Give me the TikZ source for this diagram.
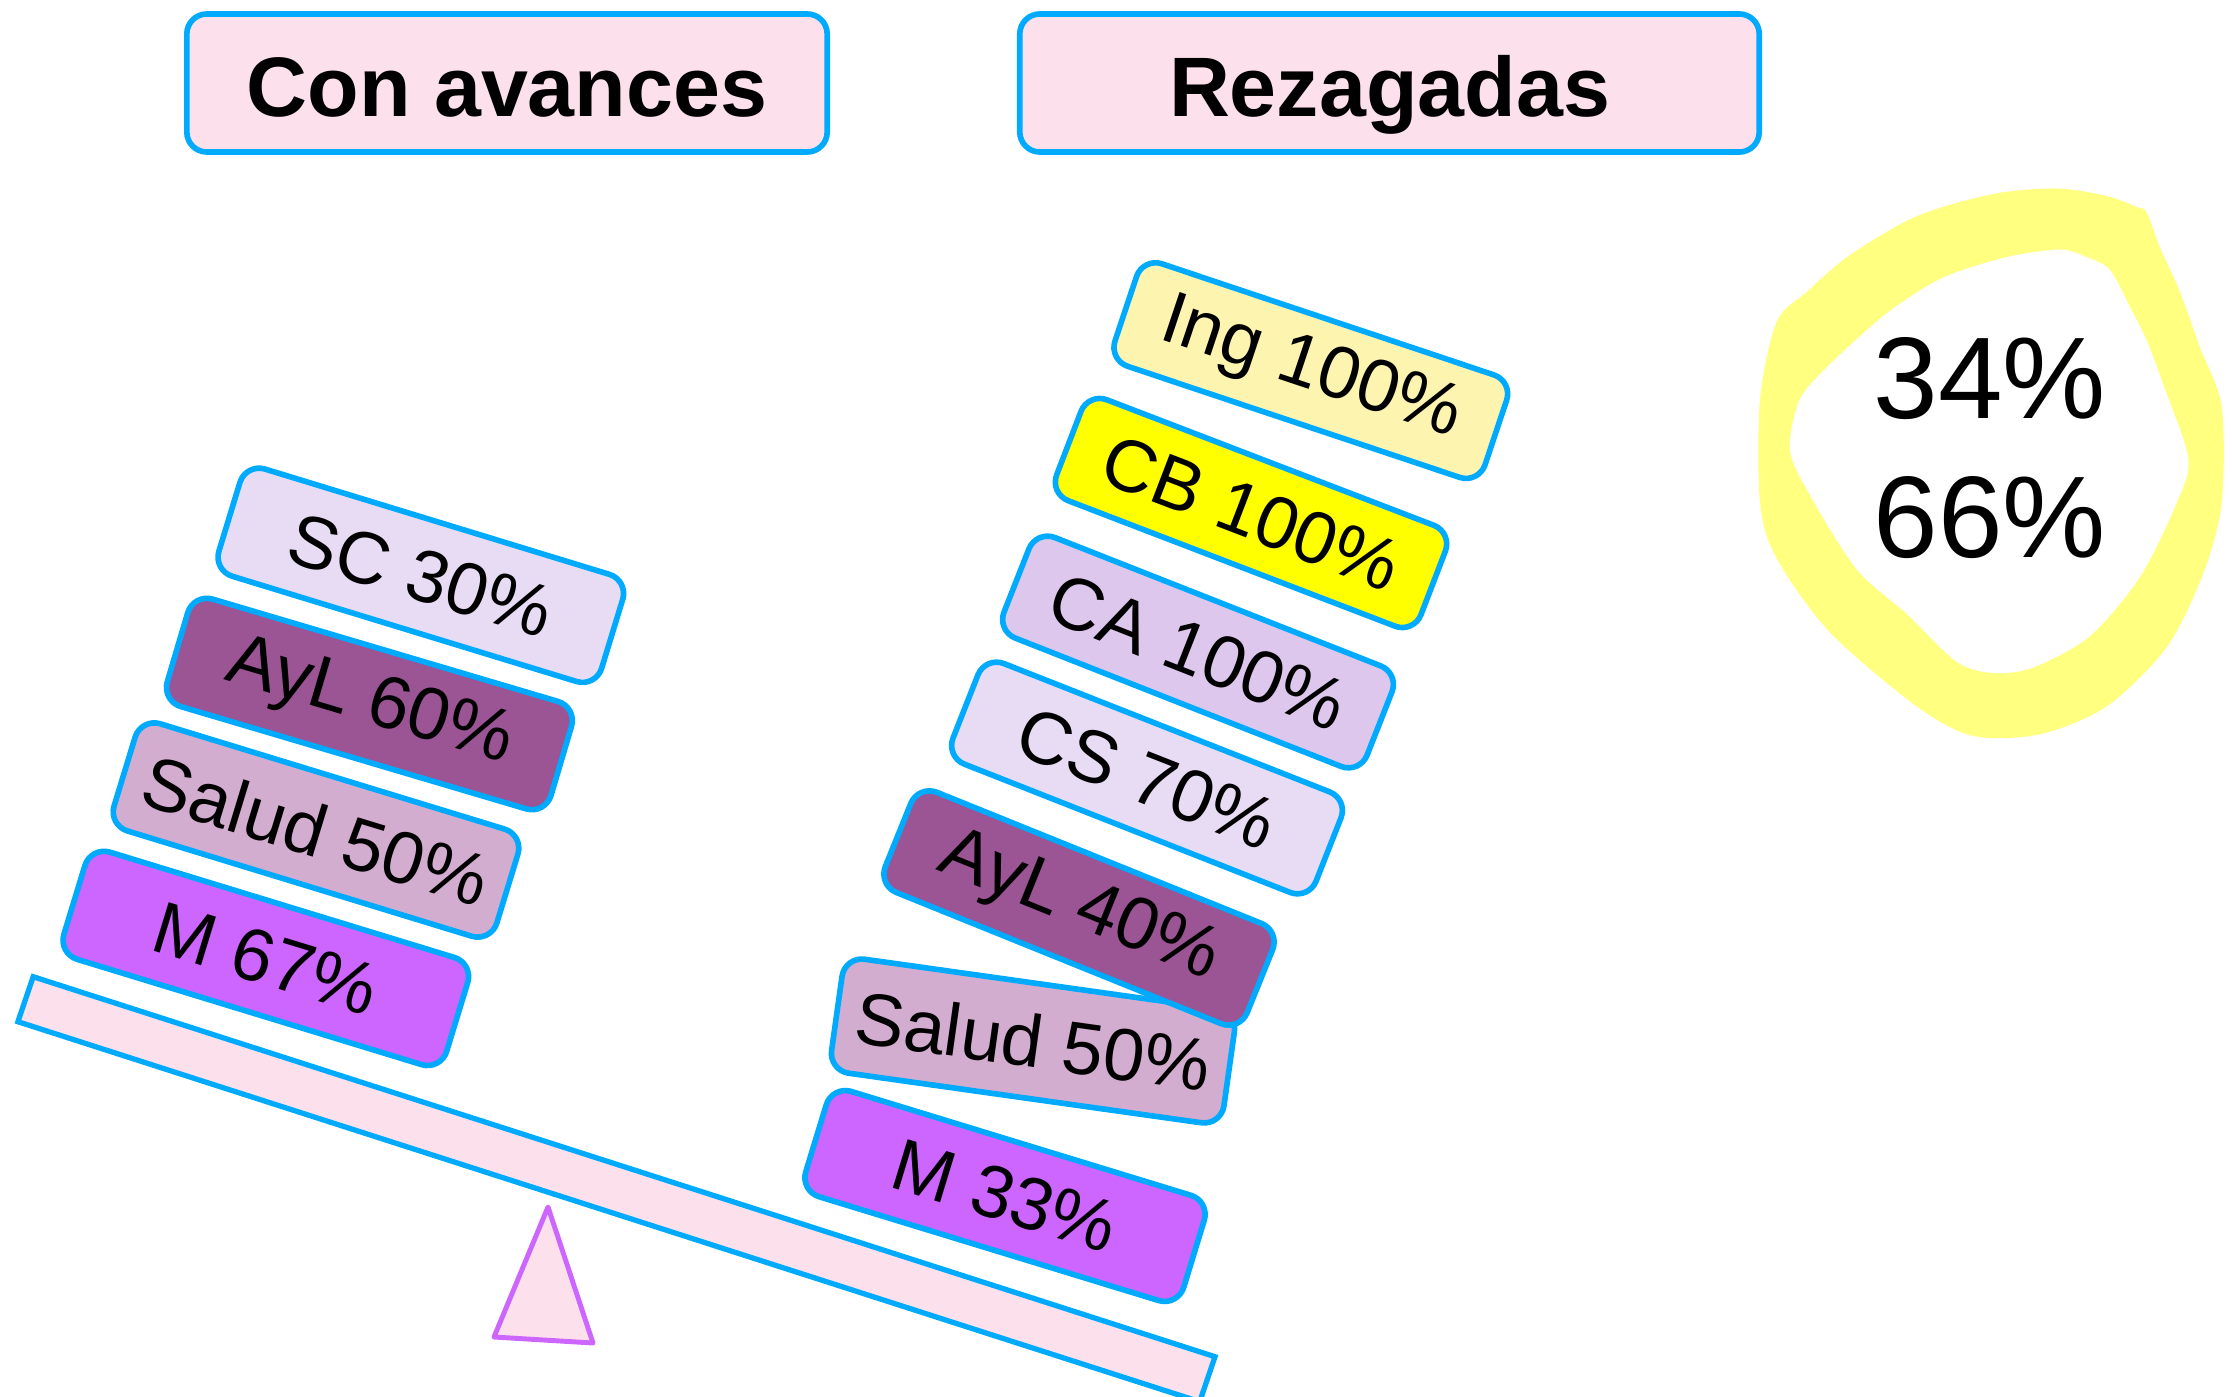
\documentclass[tikz,border=0pt]{standalone}
\usepackage{fontspec}
\setmainfont{Liberation Sans}
\begin{document}
\begin{tikzpicture}[x=0.01cm,y=-0.01cm]
\definecolor{cyb}{RGB}{0,170,255}
\definecolor{pinkf}{RGB}{252,224,236}
\definecolor{lav}{RGB}{232,220,244}
\definecolor{ayl}{RGB}{155,84,148}
\definecolor{sal}{RGB}{211,173,207}
\definecolor{mcol}{RGB}{204,102,255}
\definecolor{ing}{RGB}{253,244,176}
\definecolor{cbc}{RGB}{255,255,0}
\definecolor{cac}{RGB}{221,199,236}
\definecolor{ringc}{RGB}{255,255,128}
\tikzset{
  blk/.style={draw=cyb, line width=1.6pt, rounded corners=0.2cm, inner sep=0pt,
    minimum height=1.12cm, font=\fontsize{21}{25}\selectfont},
  lblk/.style={blk, minimum width=4.0cm},
  rblk/.style={blk, minimum width=3.9cm, minimum height=1.08cm},
  ttl/.style={draw=cyb, fill=pinkf, line width=1.6pt, rounded corners=0.2cm,
    inner sep=0pt, minimum height=1.38cm, text height=19pt, text depth=0pt,
    font=\fontsize{24}{28}\selectfont\bfseries}
}
\useasboundingbox (0,0) rectangle (2233,1397);
% titles
\node[ttl, minimum width=6.4cm] (t1) at (507,83) {Con avances};
\node[ttl, minimum width=7.39cm] (t2) at (1389.5,83) {Rezagadas};
% plank
\begin{scope}
\clip (0,0) rectangle (2233,1397);
\draw[draw=cyb, fill=pinkf, line width=1.5pt] (33.2,976.7) -- (1215,1356.7) -- (1199.7,1401.7) -- (17.9,1021.7) -- cycle;
\end{scope}
% fulcrum
\draw[draw=mcol, fill=pinkf, line width=1.4pt, line join=round] (548,1207) -- (593,1343) -- (494,1337) -- cycle;
% left stack
\node[lblk, fill=lav, rotate=-17] (sc) at (420.8,575.3) {SC 30\%};
\node[lblk, fill=ayl, rotate=-16.5] (ayl1) at (369.4,704) {AyL 60\%};
\node[lblk, fill=sal, rotate=-17] (sal1) at (316,830) {Salud 50\%};
\node[lblk, fill=mcol, rotate=-17] (m1) at (265.8,958.4) {M 67\%};
% right stack
\node[rblk, fill=ing, rotate=-18.5] (ing) at (1310.8,370.6) {Ing 100\%};
\node[rblk, fill=cbc, rotate=-21] (cb) at (1251,513) {CB 100\%};
\node[rblk, fill=cac, rotate=-21.5] (ca) at (1198,652) {CA 100\%};
\node[rblk, fill=lav, rotate=-21.5] (cs) at (1147,778) {CS 70\%};
\node[rblk, fill=sal, rotate=-8, minimum width=3.96cm, minimum height=1.15cm] (sal2) at (1033,1041) {Salud 50\%};
\node[rblk, fill=ayl, rotate=-22] (ayl2) at (1079,908) {AyL 40\%};
\node[rblk, fill=mcol, rotate=-17, minimum width=3.95cm, minimum height=1.1cm] (m2) at (1005,1196) {M 33\%};
% highlight ring
\fill[ringc, even odd rule]
  plot[smooth cycle, tension=0.5] coordinates {
    (2146.7,212.5) (2160,247.7) (2180,292) (2200,347.6) (2221.7,406.8) (2221.7,503)
    (2203.3,573.3) (2166.7,647.2) (2106.7,706.4) (2040,734.2) (1973.3,736)
    (1916.7,706.4) (1830,632.5) (1776.7,558.5) (1760,503) (1760,399.4)
    (1776.7,321.7) (1806.7,292) (1850,255) (1916.7,216.2) (1993.3,194)
    (2056.7,188.5) (2106.7,196) (2136.7,207)}
  plot[smooth cycle, tension=0.5] coordinates {
    (2110,269.9) (2130,306.9) (2146.7,340.2) (2163.3,384.6) (2188.3,458.6)
    (2176.7,503) (2140,577) (2090,636.2) (2033.3,667.6) (1993.3,673.1)
    (1956.7,662) (1906.7,614) (1856.7,569.6) (1810,495.6) (1790,451.2)
    (1796.7,406.8) (1810,384.6) (1843.3,351.3) (1890,310.6) (1943.3,277.3)
    (2006.7,257) (2060,249.5) (2086.7,257)};
\node[align=center, inner sep=0pt, font=\fontsize{33}{39.5}\selectfont] (pct) at (1990,448) {34\%\\66\%};
\end{tikzpicture}
\end{document}
